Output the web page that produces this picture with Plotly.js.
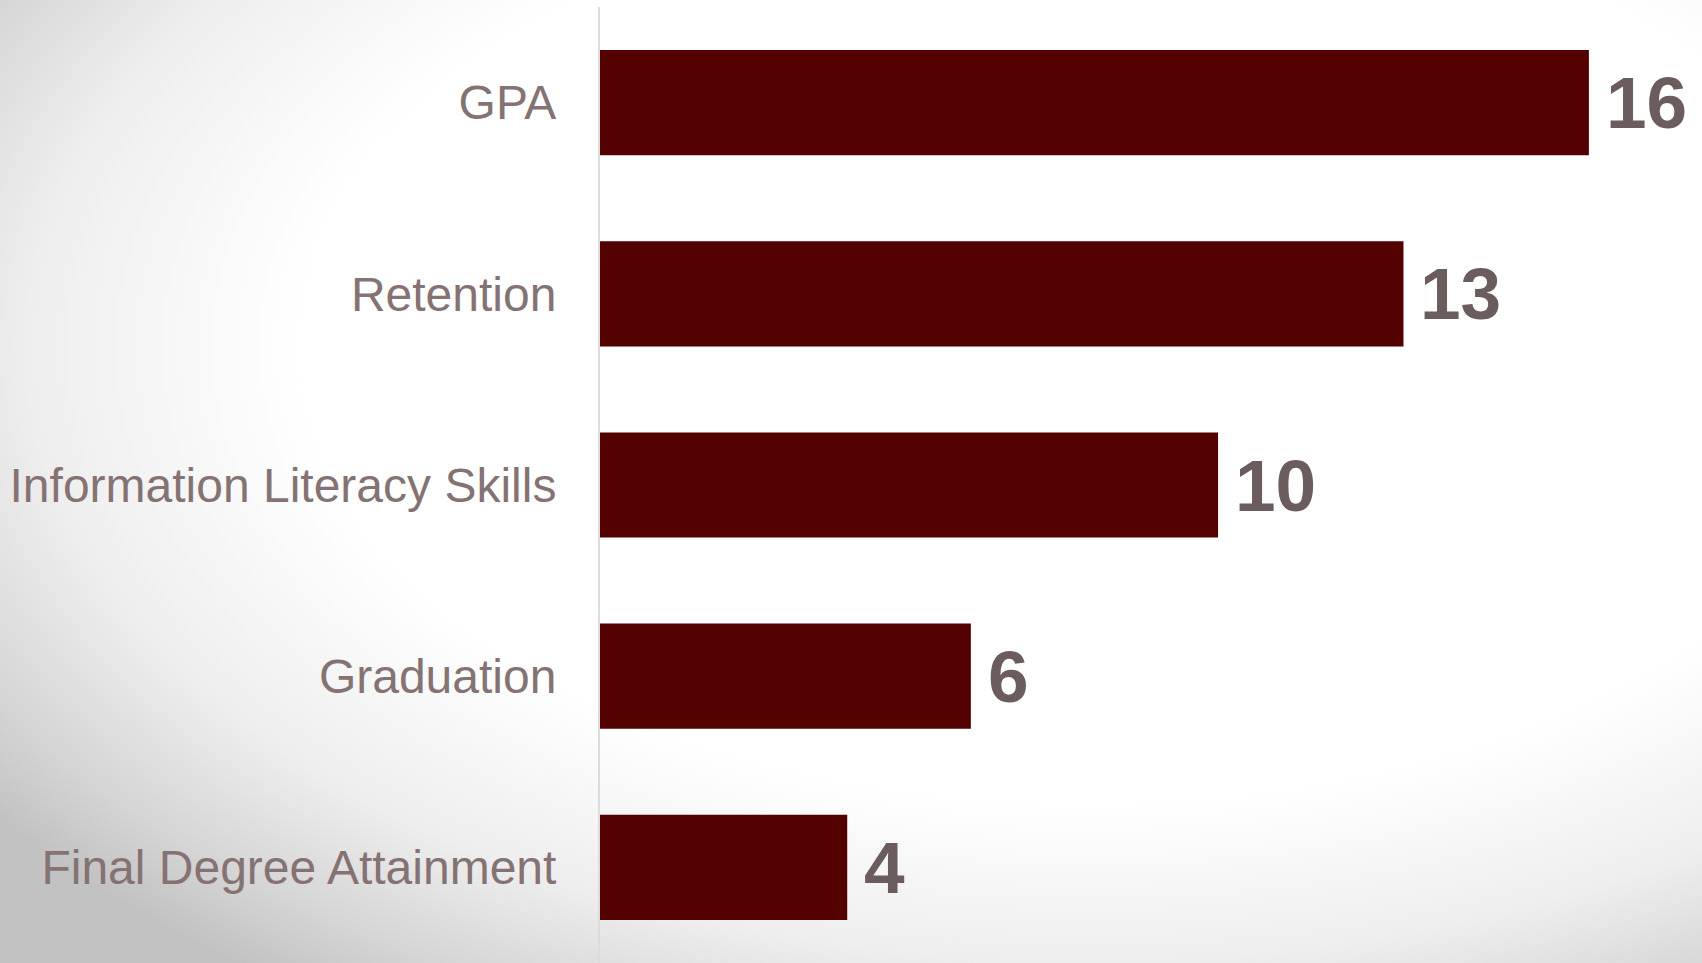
<!DOCTYPE html>
<html>
<head>
<meta charset="utf-8">
<script src="https://cdn.plot.ly/plotly-3.0.1.min.js"></script>
<style>
  html, body { margin: 0; padding: 0; width: 1702px; height: 963px; overflow: hidden; }
  body {
    background: radial-gradient(ellipse 80% 82% at 64% 36%, #ffffff 0%, #ffffff 58%, #eeeeee 78%, #d4d4d4 92%, #c2c2c2 100%);
  }
  #chart { width: 1702px; height: 963px; }
</style>
</head>
<body>
<div id="chart"></div>
<script>
const categories = ["GPA", "Retention", "Information Literacy Skills", "Graduation", "Final Degree Attainment"];
const counts = [16, 13, 10, 6, 4];

const barColor = "#520000";
const labelColor = "#857373";
const valueColor = "#6b5d5d";
const fontFamily = "'Liberation Sans', Arial, Helvetica, sans-serif";

const trace = {
  type: "bar",
  orientation: "h",
  x: counts,
  y: categories,
  marker: { color: barColor, line: { width: 0 } },
  hoverinfo: "none"
};

const annotations = categories.map((c, i) => ({
  x: counts[i],
  y: c,
  xref: "x",
  yref: "y",
  text: String(counts[i]),
  showarrow: false,
  xanchor: "left",
  yanchor: "middle",
  xshift: 15,
  font: { family: fontFamily, size: 73, color: valueColor, weight: "bold" }
}));

const layout = {
  width: 1702,
  height: 963,
  margin: { l: 600, r: 0, t: 7, b: 0, pad: 0 },
  paper_bgcolor: "rgba(0,0,0,0)",
  plot_bgcolor: "rgba(0,0,0,0)",
  bargap: 0.45,
  showlegend: false,
  font: { family: fontFamily },
  xaxis: {
    range: [0, 17.83],
    visible: false,
    showgrid: false,
    zeroline: false,
    fixedrange: true
  },
  yaxis: {
    categoryorder: "array",
    categoryarray: categories,
    autorange: "reversed",
    showline: true,
    linecolor: "#dcdcdc",
    linewidth: 2,
    showgrid: false,
    zeroline: false,
    ticks: "",
    ticklabelstandoff: 32,
    tickfont: { family: fontFamily, size: 48, color: labelColor },
    fixedrange: true
  },
  annotations: annotations
};

Plotly.newPlot("chart", [trace], layout, { displayModeBar: false, staticPlot: true });
</script>
</body>
</html>
